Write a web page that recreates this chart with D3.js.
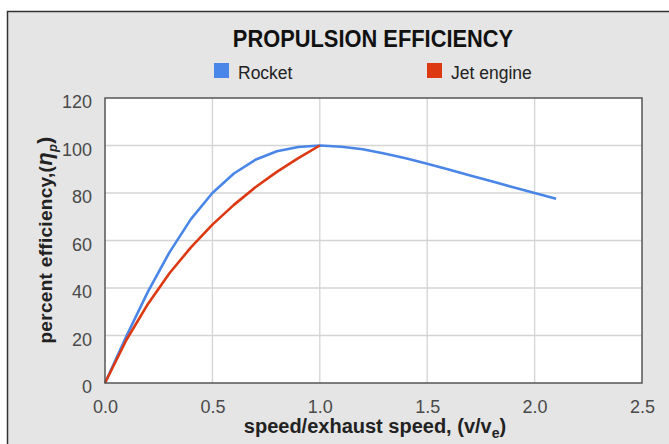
<!DOCTYPE html>
<html>
<head>
<meta charset="utf-8">
<script src="https://cdn.jsdelivr.net/npm/d3@7"></script>
<style>
  body { margin: 0; background: #fff; }
  text { font-family: "Liberation Sans", Arial, sans-serif; }
</style>
</head>
<body>
<div class="chart"></div>
<script>
const width = 669;
const height = 444;

// values
const rocketX = [0, 0.1, 0.2, 0.3, 0.4, 0.5, 0.6, 0.7, 0.8, 0.9, 1.0, 1.1, 1.2, 1.3, 1.4, 1.5, 1.6, 1.7, 1.8, 1.9, 2.0, 2.1];
const rocketY = [0, 19.8, 38.5, 55, 69, 80, 88.2, 94, 97.6, 99.4, 100, 99.5, 98.4, 96.6, 94.6, 92.3, 89.9, 87.4, 84.9, 82.4, 80, 77.6];
const jetX = [0, 0.1, 0.2, 0.3, 0.4, 0.5, 0.6, 0.7, 0.8, 0.9, 1.0];
const jetY = [0, 18.2, 33.3, 46.2, 57.1, 66.7, 75, 82.4, 88.9, 94.7, 100];
const xTicks = [0, 0.5, 1.0, 1.5, 2.0, 2.5];
const yTicks = [0, 20, 40, 60, 80, 100, 120];
const seriesNames = ["Rocket", "Jet engine"];
const seriesColors = ["#4a86e8", "#dc3912"];

const margin = { left: 105, right: 27, top: 98, bottom: 61 };

const svg = d3
  .select(".chart")
  .append("svg")
  .attr("width", width)
  .attr("height", height);

// outer panel
svg
  .append("rect")
  .attr("x", 7.5)
  .attr("y", 11.5)
  .attr("width", width)
  .attr("height", height)
  .attr("fill", "#e5e5e5")
  .attr("stroke", "#333")
  .attr("stroke-width", 1.5);

const x = d3
  .scaleLinear()
  .domain([0, 2.5])
  .range([margin.left, width - margin.right]);

const y = d3
  .scaleLinear()
  .domain([0, 120])
  .range([height - margin.bottom, margin.top]);

// plot area
svg
  .append("rect")
  .attr("x", x(0))
  .attr("y", y(120))
  .attr("width", x(2.5) - x(0))
  .attr("height", y(0) - y(120))
  .attr("fill", "#fff");

// grid
svg
  .append("g")
  .selectAll("line")
  .data(xTicks.slice(1, -1))
  .enter()
  .append("line")
  .attr("x1", (d) => x(d))
  .attr("x2", (d) => x(d))
  .attr("y1", y(0))
  .attr("y2", y(120))
  .attr("stroke", "#d4d4d4")
  .attr("stroke-width", 1.3);

svg
  .append("g")
  .selectAll("line")
  .data(yTicks.slice(1, -1))
  .enter()
  .append("line")
  .attr("x1", x(0))
  .attr("x2", x(2.5))
  .attr("y1", (d) => y(d))
  .attr("y2", (d) => y(d))
  .attr("stroke", "#d4d4d4")
  .attr("stroke-width", 1.3);

// axes labels
const xAxis = svg
  .append("g")
  .attr("transform", `translate(0, ${y(0)})`)
  .call(d3.axisBottom(x).tickValues(xTicks).tickFormat(d3.format(".1f")).tickSize(0).tickPadding(17));
xAxis.select(".domain").remove();
xAxis.selectAll("text").attr("fill", "#4a4a4a").style("font-size", "18px");

const yAxis = svg
  .append("g")
  .attr("transform", `translate(${x(0) - 13}, 4)`)
  .call(d3.axisLeft(y).tickValues(yTicks).tickSize(0).tickPadding(0));
yAxis.select(".domain").remove();
yAxis.selectAll("text").attr("fill", "#4a4a4a").style("font-size", "18px");

// lines
const line = d3
  .line()
  .x((d) => x(d[0]))
  .y((d) => y(d[1]));

const series = [
  d3.zip(rocketX, rocketY),
  d3.zip(jetX, jetY),
];

svg
  .append("g")
  .selectAll("path")
  .data(series)
  .enter()
  .append("path")
  .attr("d", line)
  .attr("fill", "none")
  .attr("stroke", (d, i) => seriesColors[i])
  .attr("stroke-width", 2.6)
  .attr("stroke-linejoin", "round");

// plot frame
svg
  .append("rect")
  .attr("x", x(0))
  .attr("y", y(120))
  .attr("width", x(2.5) - x(0))
  .attr("height", y(0) - y(120))
  .attr("fill", "none")
  .attr("stroke", "#555")
  .attr("stroke-width", 1.5);

// title
svg
  .append("text")
  .attr("transform", "translate(373, 47) scale(0.95, 1)")
  .attr("text-anchor", "middle")
  .style("font-size", "23px")
  .style("font-weight", "bold")
  .attr("fill", "#111")
  .text("PROPULSION EFFICIENCY");

// legend
const legendX = [214, 427];
const legend = svg
  .append("g")
  .selectAll("g")
  .data(seriesNames)
  .enter()
  .append("g")
  .attr("transform", (d, i) => `translate(${legendX[i]}, 63)`);

legend
  .append("rect")
  .attr("width", 15)
  .attr("height", 15)
  .attr("fill", (d, i) => seriesColors[i]);

legend
  .append("text")
  .attr("x", 24)
  .attr("y", 15.5)
  .style("font-size", "17.5px")
  .attr("fill", "#222")
  .text((d) => d);

// x title
const xTitle = svg
  .append("text")
  .attr("x", 375)
  .attr("y", 433)
  .attr("text-anchor", "middle")
  .style("font-size", "20px")
  .style("font-weight", "bold")
  .attr("fill", "#222");
xTitle.append("tspan").text("speed/exhaust speed, (v/v");
xTitle.append("tspan").attr("dy", 5).style("font-size", "14px").text("e");
xTitle.append("tspan").attr("dy", -5).text(")");

// y title
const yTitle = svg
  .append("text")
  .attr("transform", "translate(52, 240) rotate(-90)")
  .attr("text-anchor", "middle")
  .style("font-size", "19px")
  .style("font-weight", "bold")
  .style("letter-spacing", "0.3px")
  .attr("fill", "#222");
yTitle.append("tspan").text("percent efficiency,(");
yTitle.append("tspan").style("font-style", "italic").style("font-size", "22px").text("η");
yTitle.append("tspan").attr("dy", 5).style("font-style", "italic").style("font-size", "13px").text("p");
yTitle.append("tspan").attr("dy", -5).style("font-size", "21px").text(")");
</script>
</body>
</html>
